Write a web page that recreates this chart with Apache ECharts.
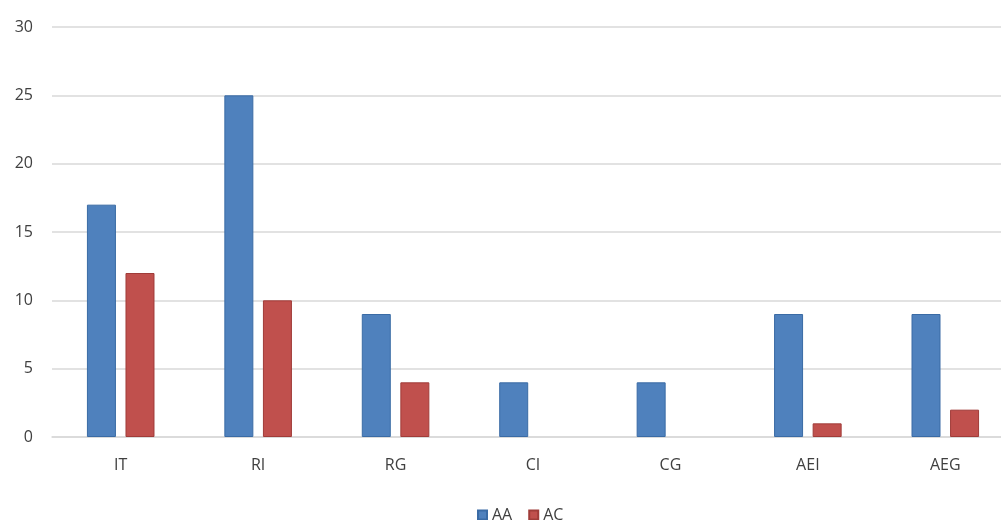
<!DOCTYPE html>
<html><head><meta charset="utf-8">
<script src="https://cdn.jsdelivr.net/npm/echarts@6/dist/echarts.min.js"></script>
<style>html,body{margin:0;padding:0;background:#fff;overflow:hidden}#c{width:1014px;height:520px}</style>
</head><body><div id="c"></div>
<script>
const categories = ['IT','RI','RG','CI','CG','AEI','AEG'];
const seriesAA = [17,25,9,4,4,9,9];
const seriesAC = [12,10,4,0,0,1,2];
const yTicks = {min:0,max:30,interval:5};

const chart = echarts.init(document.getElementById('c'));
const font = '"Open Sans", "Noto Sans", sans-serif';
const hideZero = arr => arr.map(v => v === 0 ? {value:v,itemStyle:{borderWidth:0}} : v);
chart.setOption({
  animation:false,
  textStyle:{fontFamily:font},
  grid:{left:52,right:0,top:27,bottom:83,containLabel:false},
  legend:{
    top:502,left:472,itemWidth:9,itemHeight:9,itemGap:16,
    icon:'rect',
    textStyle:{fontSize:16,color:'#404040',fontFamily:font},
    data:['AA','AC']
  },
  xAxis:{type:'category',data:categories,
    axisLine:{lineStyle:{color:'#d9d9d9',width:1.5}},
    axisTick:{show:false},
    axisLabel:{fontSize:16,color:'#404040',margin:20,fontFamily:font}
  },
  yAxis:{type:'value',min:yTicks.min,max:yTicks.max,interval:yTicks.interval,
    axisLine:{show:false},axisTick:{show:false},
    splitLine:{lineStyle:{color:'#d9d9d9',width:1.5}},
    axisLabel:{fontSize:16,color:'#404040',margin:19,fontFamily:font}
  },
  series:[
    {name:'AA',type:'bar',data:hideZero(seriesAA),barWidth:29,barGap:'33%',
     itemStyle:{color:'#4F81BD',borderColor:'#3A6BA5',borderWidth:1}},
    {name:'AC',type:'bar',data:hideZero(seriesAC),barWidth:29,
     itemStyle:{color:'#C0504D',borderColor:'#A03C39',borderWidth:1}}
  ]
});
</script></body></html>
